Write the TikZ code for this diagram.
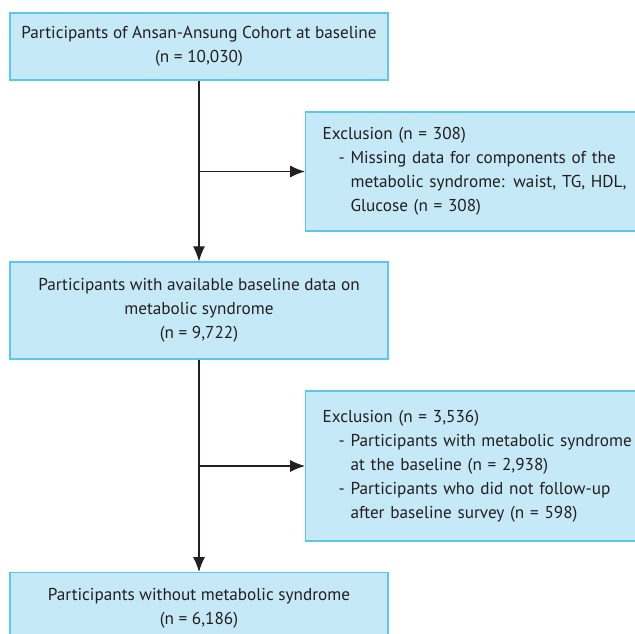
\documentclass[tikz,border=0pt]{standalone}
\usepackage{fontspec}
\setmainfont{PT Sans}
\usetikzlibrary{arrows.meta}
\definecolor{boxfill}{HTML}{C6E9F8}
\definecolor{boxline}{HTML}{5CC6EE}
\definecolor{ink}{HTML}{231F20}
\begin{document}
\begin{tikzpicture}[x=1pt,y=-1pt,
	box/.style={draw=boxline,fill=boxfill,line width=1.2pt,text=ink,font=\fontsize{17.2}{24}\selectfont},
	mainbox/.style={box,minimum width=378pt,align=center},
	sidebox/.style={box,anchor=west,align=left,text width=310pt,inner xsep=17pt},
	arr/.style={draw=ink,line width=1.1pt,-{Latex[length=15pt,width=12pt]}}]
		\clip (0,0) rectangle (635,634);
		\node[mainbox,minimum height=67pt] (base) at (199,46.5) {Participants of Ansan-Ansung Cohort at baseline\\(n = 10,030)};
		\node[mainbox,minimum height=97pt] (avail) at (199,310.5) {Participants with available baseline data on\\metabolic syndrome\\(n = 9,722)};
		\node[mainbox,minimum height=71pt,anchor=north] (final) at (199,572) {Participants without metabolic syndrome\\(n = 6,186)};
		\node[sidebox,minimum height=119pt] (excla) at (305,171.5) {Exclusion (n = 308)\\
			\hspace{16pt}- Missing data for components of the\\
			\hspace{28pt}metabolic syndrome: waist, TG, HDL,\\
			\hspace{28pt}Glucose (n = 308)};
		\node[sidebox,minimum height=150pt] (exclb) at (305,466) {Exclusion (n = 3,536)\\
			\hspace{16pt}- Participants with metabolic syndrome\\
			\hspace{28pt}at the baseline (n = 2,938)\\
			\hspace{16pt}- Participants who did not follow-up\\
			\hspace{28pt}after baseline survey (n = 598)};
		\coordinate (ja) at (base.south |- excla.west);
		\coordinate (jb) at (avail.south |- exclb.west);
		\draw[arr] (base.south)--(avail.north);
		\draw[arr] (avail.south)--(final.north);
		\draw[arr] (ja)--(excla.west);
		\draw[arr] (jb)--(exclb.west);
		\end{tikzpicture}
\end{document}
